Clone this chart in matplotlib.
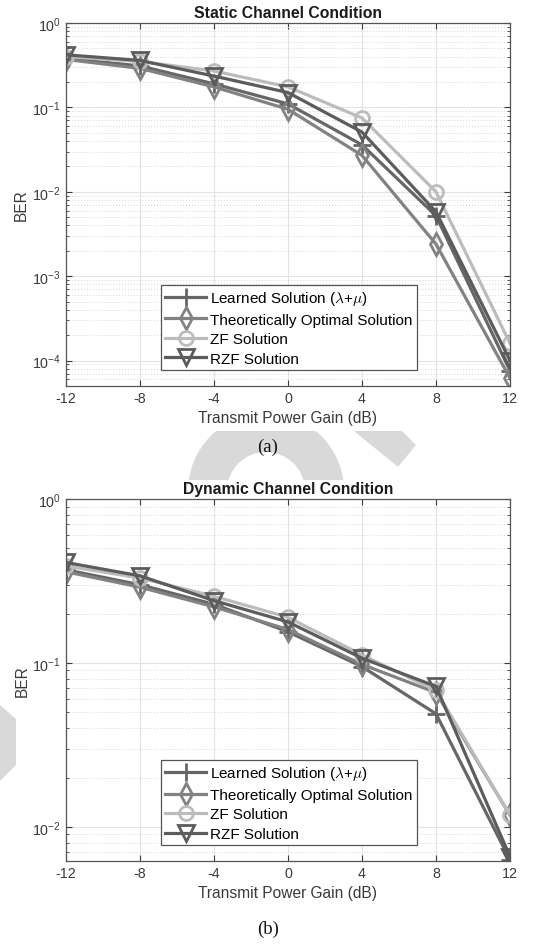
import matplotlib
matplotlib.use('Agg')
import matplotlib.pyplot as plt
from matplotlib.patches import Wedge, Polygon, Rectangle
import numpy as np

plt.rcParams['font.family'] = ['Liberation Sans', 'DejaVu Sans']
plt.rcParams['mathtext.fontset'] = 'cm'

# transmit power gain in dB
gain_db = [-12, -8, -4, 0, 4, 8, 12]

# static channel BER
static_learned = [0.38, 0.31, 0.19, 0.11, 0.036, 0.0052, 7.6e-5]
static_optimal = [0.37, 0.29, 0.175, 0.095, 0.027, 0.0024, 6.2e-5]
static_zf = [0.40, 0.35, 0.27, 0.175, 0.075, 0.0100, 1.6e-4]
static_rzf = [0.42, 0.36, 0.235, 0.15, 0.051, 0.0058, 1.0e-4]

# dynamic channel BER
dynamic_learned = [0.37, 0.30, 0.228, 0.155, 0.095, 0.049, 0.0063]
dynamic_optimal = [0.36, 0.29, 0.22, 0.16, 0.098, 0.066, 0.0118]
dynamic_zf = [0.39, 0.33, 0.255, 0.19, 0.112, 0.068, 0.0118]
dynamic_rzf = [0.41, 0.34, 0.24, 0.178, 0.107, 0.072, 0.0066]

labels = [r'Learned Solution ($\mathrm{\lambda}$+$\mu$)',
          'Theoretically Optimal Solution',
          'ZF Solution',
          'RZF Solution']

styles = [dict(color='#666666', marker='+', markersize=13),
          dict(color='#828282', marker='d', markersize=11),
          dict(color='#bcbcbc', marker='o', markersize=10),
          dict(color='#5c5c5c', marker='v', markersize=11)]

fig = plt.figure(figsize=(5.4, 9.45), dpi=100)

# light watermark in the gaps between panels
bg = fig.add_axes([0, 0, 1, 1], zorder=-1)
bg.set_xlim(0, 540)
bg.set_ylim(945, 0)
bg.axis('off')
wm = '#d9d9d9'
ring = Wedge((266, 492), 78, 180, 360, width=39, color=wm, lw=0)
bg.add_patch(ring)
ring.set_clip_path(Rectangle((0, 432), 540, 49, transform=bg.transData))
bg.add_patch(Polygon([(354, 432), (402, 432), (416, 446), (398, 468)],
                     closed=True, color=wm, lw=0))
bg.add_patch(Polygon([(0, 706), (16, 720), (16, 766), (0, 782)],
                     closed=True, color=wm, lw=0))


def draw_panel(ax, series, title, ylim):
    for y, lab, st in zip(series, labels, styles):
        ax.semilogy(gain_db, y, linewidth=2.3, mfc='none', mew=2.0,
                    label=lab, **st)
    ax.set_xlim(-12, 12)
    ax.set_ylim(*ylim)
    ax.set_xticks(gain_db)
    ax.set_xticklabels([str(g) for g in gain_db])
    ax.grid(True, which='major', color='#e3e3e3', linewidth=0.8, linestyle='-')
    ax.grid(True, which='minor', axis='y', color='#d6d6d6', linewidth=0.7,
            linestyle=(0, (1, 2)))
    ax.set_axisbelow(True)
    ax.tick_params(which='both', direction='in', top=True, right=True,
                   labelsize=10.3, colors='#3a3a3a', labelcolor='#3a3a3a')
    ax.tick_params(which='major', length=4)
    ax.tick_params(which='minor', length=2.5)
    for s in ax.spines.values():
        s.set_color('#555555')
        s.set_linewidth(0.9)
    ax.set_title(title, fontsize=11.3, fontweight='bold', color='#1a1a1a', pad=4)
    ax.set_xlabel('Transmit Power Gain (dB)', fontsize=11.2, color='#3a3a3a',
                  labelpad=4)
    ax.set_ylabel('BER', fontsize=11.2, color='#3a3a3a', labelpad=2)
    leg = ax.legend(loc='lower left', bbox_to_anchor=(0.213, 0.043),
                    fontsize=11, handlelength=2.7, handletextpad=0.25,
                    labelspacing=0.36, borderpad=0.3, borderaxespad=0,
                    fancybox=False, framealpha=1, edgecolor='#555555')
    leg.get_frame().set_linewidth(0.9)


ax1 = fig.add_axes([0.1222, 0.5905, 0.8222, 0.3841])
draw_panel(ax1, [static_learned, static_optimal, static_zf, static_rzf],
           'Static Channel Condition', (5e-5, 1))

ax2 = fig.add_axes([0.1222, 0.0878, 0.8222, 0.3831])
draw_panel(ax2, [dynamic_learned, dynamic_optimal, dynamic_zf, dynamic_rzf],
           'Dynamic Channel Condition', (6.2e-3, 1))

fig.text(268 / 540, 1 - 447 / 945, '(a)', family='Liberation Serif',
         fontsize=13.5, ha='center', va='center', color='#111111')
fig.text(268 / 540, 1 - 929 / 945, '(b)', family='Liberation Serif',
         fontsize=13.5, ha='center', va='center', color='#111111')

fig.savefig('out.png', dpi=100, facecolor='white')
